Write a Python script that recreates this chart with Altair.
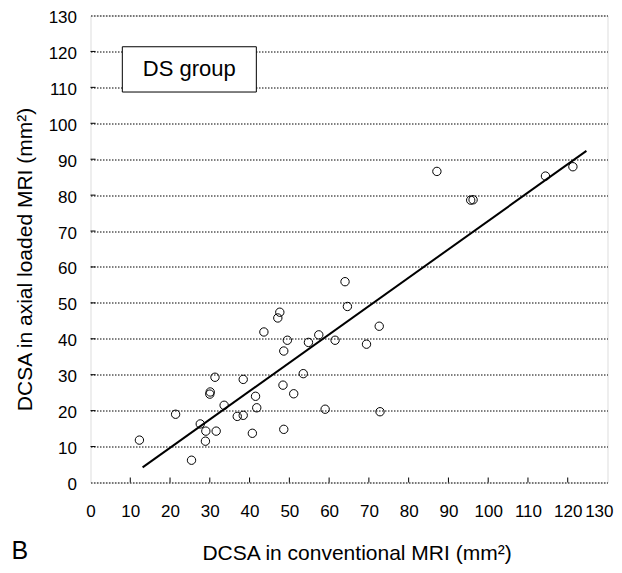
import altair as alt
import pandas as pd

# Scatter data (DCSA conventional vs axial loaded MRI)
conv_mri = [12.3, 25.4, 21.4, 27.6, 29.0, 28.9, 30.0, 30.1, 31.3, 31.6,
            33.6, 36.9, 38.4, 38.4, 40.7, 41.5, 41.8, 43.6, 47.1, 47.6,
            48.4, 48.6, 48.6, 49.5, 51.1, 53.5, 54.8, 57.4, 59.0, 61.5,
            64.0, 64.6, 69.4, 72.6, 72.8, 87.1, 95.6, 96.2, 114.4, 121.3]
axial_mri = [11.8, 6.2, 19.0, 16.3, 14.3, 11.5, 24.6, 25.2, 29.3, 14.3,
             21.5, 18.4, 18.7, 28.7, 13.7, 24.0, 20.8, 41.9, 45.8, 47.4,
             27.1, 36.6, 14.8, 39.6, 24.7, 30.3, 39.0, 41.1, 20.4, 39.6,
             55.9, 49.0, 38.5, 43.5, 19.7, 86.6, 78.6, 78.7, 85.3, 87.9]

# Regression line endpoints
line_x = [13.1, 124.7]
line_y = [4.2, 92.3]

# Axis ticks
tick_values = list(range(0, 131, 10))
inner_ticks = list(range(10, 130, 10))

# Legend box "DS group"
box = {"x": 8.0, "x2": 41.7, "y": 108.7, "y2": 121.3, "label": "DS group"}

FONT = "Liberation Sans"
W, H = 517, 467

pts = pd.DataFrame({"x": conv_mri, "y": axial_mri})
ln = pd.DataFrame({"x": line_x, "y": line_y})
tk = pd.DataFrame({"v": inner_ticks})
bx = pd.DataFrame([box])

xscale = alt.Scale(domain=[0, 130], nice=False, zero=False)
yscale = alt.Scale(domain=[0, 130], nice=False, zero=False)

last_label = "datum.value >= 130"

xaxis = alt.Axis(
    values=tick_values, tickCount=14, grid=False, domain=False, ticks=False, tickSize=0,
    labelOverlap=False, labelFlush=False,
    labelFont=FONT, labelFontSize=17, labelColor="black",
    labelBaseline="alphabetic", labelPadding=34.4,
    labelAlign=alt.condition(last_label, alt.value("right"), alt.value("center")),
    labelOffset=alt.condition(last_label, alt.value(5.5), alt.value(0)),
    title="DCSA in conventional MRI (mm²)", titleFont=FONT, titleFontSize=21,
    titleFontWeight="normal", titleColor="black",
    titleX=266, titleY=76.5, titleBaseline="alphabetic", titleAlign="center",
)
yaxis = alt.Axis(
    values=tick_values, tickCount=14, grid=True, gridColor="black", gridDash=[1.5, 1.5],
    gridWidth=1, gridOpacity=1, domain=False, ticks=False, tickSize=0,
    labelOverlap=False, labelFlush=False,
    labelFont=FONT, labelFontSize=17, labelColor="black", labelPadding=14,
    labelOffset=2,
    title="DCSA in axial loaded MRI (mm²)", titleFont=FONT, titleFontSize=21,
    titleFontWeight="normal", titleColor="black",
    titleX=-59, titleY=243.5, titleAngle=270, titleBaseline="alphabetic",
    titleAlign="center",
)

def X(field):
    return alt.X(field, scale=xscale, axis=xaxis)

def Y(field):
    return alt.Y(field, scale=yscale, axis=yaxis)

base_pts = alt.Chart(pts).mark_point(
    shape="circle", filled=False, color="black", size=70, strokeWidth=1, opacity=1
).encode(x=X("x:Q"), y=Y("y:Q"))

box_rect = alt.Chart(bx).mark_rect(fill="white", stroke="black", strokeWidth=1).encode(
    x=X("x:Q"), x2="x2:Q", y=Y("y:Q"), y2="y2:Q",
)
box_text = alt.Chart(bx).transform_calculate(
    cx="(datum.x + datum.x2) / 2", cy="(datum.y + datum.y2) / 2"
).mark_text(font=FONT, fontSize=22, color="black", align="center", baseline="middle").encode(
    x=X("cx:Q"), y=Y("cy:Q"), text="label:N"
)

reg_line = alt.Chart(ln).mark_line(color="black", strokeWidth=2).encode(
    x=X("x:Q"), y=Y("y:Q")
)

x_ticks = alt.Chart(tk).mark_rule(color="black", strokeWidth=1).encode(
    x=X("v:Q"), y=alt.value(H), y2=alt.value(H - 5)
)
y_ticks = alt.Chart(tk).mark_rule(color="black", strokeWidth=1).encode(
    y=Y("v:Q"), x=alt.value(0), x2=alt.value(5)
)

panel = alt.Chart(pd.DataFrame({"t": ["B"]})).mark_text(
    font=FONT, fontSize=25, color="black", align="left", baseline="alphabetic"
).encode(x=alt.value(-79), y=alt.value(543.5), text="t:N")

chart = alt.layer(
    base_pts, box_rect, box_text, reg_line, x_ticks, y_ticks, panel
).properties(
    width=W, height=H,
    autosize=alt.AutoSizeParams(type="none"),
    padding={"left": 82.5, "top": 7.5, "right": 6.5, "bottom": 82.5},
).configure_view(
    stroke="black", strokeWidth=2, fill="white"
).configure(background="white")

chart.save("out.html", embed_options={"renderer": "svg", "actions": False})
